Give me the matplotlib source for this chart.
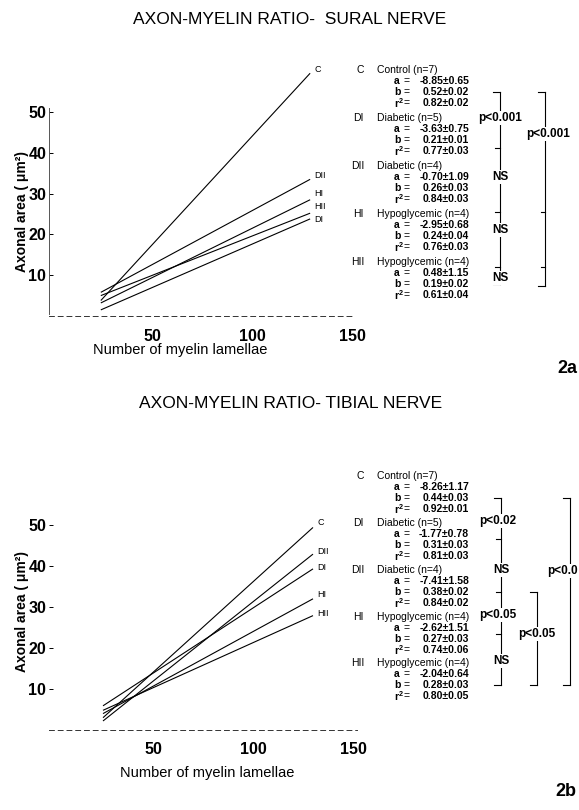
import matplotlib
matplotlib.use('Agg')
import matplotlib.pyplot as plt
from matplotlib.lines import Line2D

plt.rcParams['font.family'] = ['Liberation Sans', 'DejaVu Sans']
plt.rcParams['mathtext.fontset'] = 'custom'
plt.rcParams['mathtext.rm'] = 'Liberation Sans:bold'
plt.rcParams['mathtext.it'] = 'Liberation Sans:italic'
plt.rcParams['mathtext.bf'] = 'Liberation Sans:bold'

W, H = 579, 810

# ---------------- data ----------------
groups = ["C", "DI", "DII", "HI", "HII"]
names = ["Control (n=7)", "Diabetic (n=5)", "Diabetic (n=4)",
         "Hypoglycemic (n=4)", "Hypoglycemic (n=4)"]

x_ticks = [50, 100, 150]
y_ticks = [10, 20, 30, 40, 50]

# Sural nerve: regression lines read at start / end of lamellae range
sural_x = [24, 129]
sural_start = [3.8, 1.5, 5.8, 3.2, 5.0]
sural_end = [59.5, 23.8, 33.5, 28.5, 25.2]
sural_a = ["-8.85±0.65", "-3.63±0.75", "-0.70±1.09", "-2.95±0.68", "0.48±1.15"]
sural_b = ["0.52±0.02", "0.21±0.01", "0.26±0.03", "0.24±0.04", "0.19±0.02"]
sural_r2 = ["0.82±0.02", "0.77±0.03", "0.84±0.03", "0.76±0.03", "0.61±0.04"]
sural_label_y = [60.5, 23.6, 34.5, 30.0, 26.8]
sural_inner = ["p<0.001", "NS", "NS", "NS"]
sural_outer = "p<0.001"

# Tibial nerve
tibial_x = [25, 130]
tibial_start = [3.0, 5.9, 2.2, 4.0, 4.8]
tibial_end = [49.4, 39.3, 42.9, 32.0, 27.9]
tibial_a = ["-8.26±1.17", "-1.77±0.78", "-7.41±1.58", "-2.62±1.51", "-2.04±0.64"]
tibial_b = ["0.44±0.03", "0.31±0.03", "0.38±0.02", "0.27±0.03", "0.28±0.03"]
tibial_r2 = ["0.92±0.01", "0.81±0.03", "0.84±0.02", "0.74±0.06", "0.80±0.05"]
tibial_label_y = [50.5, 39.6, 43.6, 33.0, 28.4]
tibial_inner = ["p<0.02", "NS", "p<0.05", "NS"]
tibial_middle = "p<0.05"
tibial_outer = "p<0.0"

# ---------------- figure ----------------
fig = plt.figure(figsize=(W / 100, H / 100), dpi=100)


def fx(x):
    return x / W


def fy(y):
    return 1 - y / H


def ftext(x, y, s, **kw):
    kw.setdefault('va', 'center')
    kw.setdefault('ha', 'left')
    return fig.text(fx(x), fy(y), s, **kw)


def seg(x0, y0, x1, y1, lw=0.8):
    fig.add_artist(Line2D([fx(x0), fx(x1)], [fy(y0), fy(y1)],
                          color='black', lw=lw, transform=fig.transFigure))


def make_axes(left, top, right, bottom, xlim, ylim, show_left):
    ax = fig.add_axes([fx(left), fy(bottom), (right - left) / W, (bottom - top) / H])
    ax.set_xlim(*xlim)
    ax.set_ylim(*ylim)
    ax.patch.set_alpha(0)
    for s in ['top', 'right']:
        ax.spines[s].set_visible(False)
    ax.spines['bottom'].set_linestyle((0, (5, 4)))
    ax.spines['bottom'].set_linewidth(0.7)
    ax.spines['bottom'].set_color('#333333')
    if show_left:
        ax.spines['left'].set_bounds(0.5, 51)
        ax.spines['left'].set_linewidth(0.7)
        ax.spines['left'].set_color('#555555')
    else:
        ax.spines['left'].set_visible(False)
    ax.set_xticks(x_ticks)
    ax.set_yticks(y_ticks)
    ax.tick_params(axis='x', length=0, pad=9, labelsize=11.5)
    ax.tick_params(axis='y', direction='in', length=3, width=0.7, pad=2, labelsize=11.5)
    for t in ax.get_xticklabels() + ax.get_yticklabels():
        t.set_fontweight('bold')
    return ax


def draw_panel(ax, xs, starts, ends, label_y):
    for g, y0, y1, ly in zip(groups, starts, ends, label_y):
        ax.plot(xs, [y0, y1], color='black', lw=0.8, solid_capstyle='butt')
        ax.text(xs[1] + 2, ly, g, fontsize=6.5, va='center', ha='left')


def draw_stats(headers, a_vals, b_vals, r_vals):
    for g, n, h, av, bv, rv in zip(groups, names, headers, a_vals, b_vals, r_vals):
        ftext(364, h, g, ha='right', fontsize=7.5)
        ftext(377, h, n, fontsize=7.5)
        for dy, lab, val in [(11, "a", av), (22, "b", bv), (33, r"r$^{2}$", rv)]:
            ftext(394, h + dy, lab, fontsize=7.5, fontweight='bold')
            ftext(403, h + dy, "=", fontsize=7.5)
            ftext(469, h + dy, val, ha='right', fontsize=7.5, fontweight='bold')


def blabel(x, y, s, ha='center'):
    ftext(x, y, s, ha=ha, fontsize=8.5, fontweight='bold',
          bbox=dict(fc='white', ec='none', pad=0.6), zorder=5)


# ---------------- titles ----------------
ftext(290, 19, "AXON-MYELIN RATIO-  SURAL NERVE", ha='center', fontsize=12.5)
ftext(291, 404, "AXON-MYELIN RATIO- TIBIAL NERVE", ha='center', fontsize=12.5)
ftext(577, 369, "2a", ha='right', fontsize=13, fontweight='bold')
ftext(576, 791, "2b", ha='right', fontsize=13, fontweight='bold')

# ---------------- top panel ----------------
ax1 = make_axes(49, 62, 352, 316, (-2, 150), (0, (316 - 62) / 4.08), True)
draw_panel(ax1, sural_x, sural_start, sural_end, sural_label_y)
ftext(22, 212, "Axonal area ( μm²)", rotation=90, ha='center', fontsize=10,
      fontweight='bold')
ftext(180, 350, "Number of myelin lamellae", ha='center', fontsize=10.5)

hs = [70, 118, 166, 214, 262]
draw_stats(hs, sural_a, sural_b, sural_r2)
bs = [h + 22 for h in hs]
xi = 500
seg(493, bs[0], xi, bs[0])
seg(xi, bs[0], xi, bs[4])
seg(493, bs[4], xi, bs[4])
for jy in [hs[1] + 30, hs[3] - 2, hs[4] + 5]:
    seg(495, jy, xi, jy)
blabel(xi, hs[1], sural_inner[0])
blabel(xi, hs[2] + 11, sural_inner[1])
blabel(xi, hs[3] + 16, sural_inner[2])
blabel(xi, hs[4] + 16, sural_inner[3])
xo = 545
seg(538, bs[0], xo, bs[0])
seg(xo, bs[0], xo, bs[4] + 2)
seg(538, bs[4] + 2, xo, bs[4] + 2)
for jy in [hs[3] - 2, hs[4] + 5]:
    seg(541, jy, xo, jy)
blabel(xo + 3, hs[1] + 16, sural_outer)

# ---------------- bottom panel ----------------
ax2 = make_axes(49, 517, 357, 730, (-2, 152), (0, 213 / 4.1), False)
draw_panel(ax2, tibial_x, tibial_start, tibial_end, tibial_label_y)
ftext(22, 611, "Axonal area ( μm²)", rotation=90, ha='center', fontsize=10,
      fontweight='bold')
ftext(207, 773, "Number of myelin lamellae", ha='center', fontsize=10.5)

ht = [476, 523, 570, 617, 663]
draw_stats(ht, tibial_a, tibial_b, tibial_r2)
bt = [h + 22 for h in ht]
xi = 501
seg(494, bt[0], xi, bt[0])
seg(xi, bt[0], xi, bt[4])
seg(494, bt[4], xi, bt[4])
for jy in [ht[1] + 16, bt[2], ht[3] + 17]:
    seg(496, jy, xi, jy)
blabel(xi - 3, ht[1] - 2, tibial_inner[0])
blabel(xi, ht[2], tibial_inner[1])
blabel(xi - 3, ht[3] - 2, tibial_inner[2])
blabel(xi, ht[4] - 2, tibial_inner[3])
xm = 537
seg(530, bt[2], xm, bt[2])
seg(xm, bt[2], xm, bt[4])
seg(530, bt[4], xm, bt[4])
blabel(xm, ht[3] + 17, tibial_middle)
xo = 570
seg(563, bt[0], xo, bt[0])
seg(xo, bt[0], xo, bt[4])
seg(563, bt[4], xo, bt[4])
blabel(578, ht[2] + 1, tibial_outer, ha='right')

fig.savefig('out.png', dpi=100, facecolor='white')
